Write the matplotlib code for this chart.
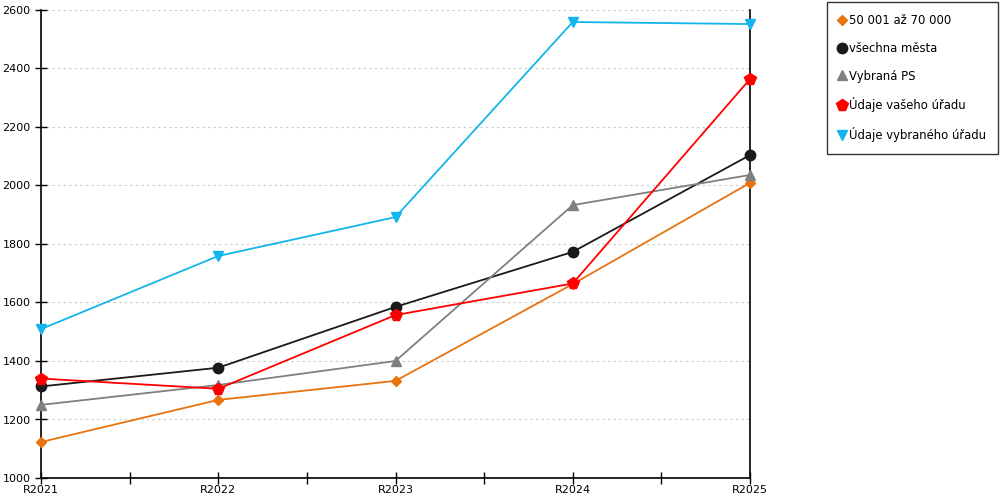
import numpy as np
import matplotlib
matplotlib.use('Agg')
import matplotlib.pyplot as plt

YEARS = ['R2021', 'R2022', 'R2023', 'R2024', 'R2025']
SERIES_NAMES = ['50 001 až 70 000', 'všechna města', 'Vybraná PS',
                'Údaje vašeho úřadu', 'Údaje vybraného úřadu']
ORANGE_VALS = [1123, 1267, 1332, 1663, 2009]
BLACK_VALS = [1313, 1377, 1585, 1773, 2104]
GREY_VALS = [1250, 1318, 1400, 1933, 2036]
RED_VALS = [1340, 1305, 1557, 1665, 2364]
BLUE_VALS = [1509, 1759, 1892, 2559, 2552]

STYLES = [
    ('#e8730f', 'D', 5.5),
    ('#1a1a1a', 'o', 7.5),
    ('#808080', '^', 7.5),
    ('#ff0000', 'p', 8.5),
    ('#14b4ec', 'v', 7.5),
]

plt.rcParams['font.family'] = ['DejaVu Sans']

fig = plt.figure(figsize=(10, 5), dpi=100)
ax = fig.add_axes([0.041, 0.044, 0.709, 0.936])

x = np.arange(len(YEARS))
all_vals = [ORANGE_VALS, BLACK_VALS, GREY_VALS, RED_VALS, BLUE_VALS]
for name, vals, (color, marker, ms) in zip(SERIES_NAMES, all_vals, STYLES):
    ax.plot(x, vals, color=color, marker=marker, markersize=ms, linewidth=1.3,
            label=name, clip_on=False, zorder=3)

ax.set_xlim(0, len(YEARS) - 1)
ax.set_ylim(1000, 2600)
ax.set_yticks(np.arange(1000, 2601, 200))
ax.set_xticks(x)
ax.set_xticklabels(YEARS)
ax.set_xticks(np.arange(0.5, len(YEARS) - 1, 1.0), minor=True)
ax.tick_params(axis='both', labelsize=8, direction='inout', length=8, width=1)
ax.tick_params(axis='x', which='minor', direction='inout', length=8, width=1)
ax.tick_params(axis='x', pad=1)
ax.yaxis.grid(True, linestyle=(0, (2, 3)), color='#c8c8c8', linewidth=0.8)
ax.set_axisbelow(True)
ax.spines['top'].set_visible(False)
for s in ['left', 'right', 'bottom']:
    ax.spines[s].set_color('black')
    ax.spines[s].set_linewidth(1.2)

leg = fig.legend(loc='upper right', bbox_to_anchor=(0.998, 0.996), fontsize=8.4,
                 frameon=True, fancybox=False, edgecolor='black',
                 labelspacing=1.28, handlelength=0.6, handletextpad=0.35,
                 borderpad=1.0, borderaxespad=0)
for h in leg.legend_handles:
    h.set_linestyle('none')
leg.get_frame().set_linewidth(1.0)

fig.savefig('out.png', dpi=100)
